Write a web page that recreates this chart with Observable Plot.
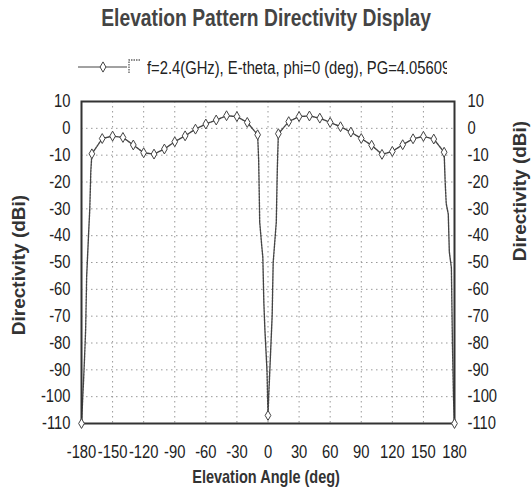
<!DOCTYPE html>
<html>
<head>
<meta charset="utf-8">
<script src="https://cdn.jsdelivr.net/npm/d3@7"></script>
<script src="https://cdn.jsdelivr.net/npm/@observablehq/plot@0.6"></script>
<style>
  html, body { margin: 0; padding: 0; background: #fff; }
  #page { position: relative; width: 532px; height: 487px; overflow: hidden; font-family: "Liberation Sans", Arial, sans-serif; color: #333; }
  .abs { position: absolute; white-space: nowrap; }
  #title { left: 0; width: 532px; top: 4px; text-align: center; font-weight: bold; font-size: 23.5px; line-height: 28px; color: #444; }
  #title span { display: inline-block; transform: scaleX(0.82); transform-origin: 50% 50%; }
  #legend { left: 0; top: 55px; width: 532px; height: 26px; }
  #legtext { left: 147px; top: 56px; width: 300px; height: 24px; overflow: hidden; font-size: 18px; line-height: 24px; color: #222; }
  #legtext span { display: inline-block; transform: scaleX(0.82); transform-origin: 0 50%; }
  #chart { position: absolute; left: 0; top: 85px; }
  #xlabel { left: 0; width: 532px; top: 466px; text-align: center; font-weight: bold; font-size: 17.7px; line-height: 22px; color: #333; }
  #xlabel span { display: inline-block; transform: scaleX(0.82); }
  .ylab { font-weight: bold; font-size: 19px; line-height: 22px; color: #333; transform: translate(-50%, -50%) rotate(-90deg); }
</style>
</head>
<body>
<div id="page">
  <div id="chart"></div>
  <div id="title" class="abs"><span>Elevation Pattern Directivity Display</span></div>
  <svg id="legend" class="abs" width="532" height="26"></svg>
  <div id="legtext" class="abs"><span>f=2.4(GHz), E-theta, phi=0 (deg), PG=4.05609</span></div>
  <div id="xlabel" class="abs"><span>Elevation Angle (deg)</span></div>
  <div id="ylabL" class="abs ylab" style="left:19px; top:265px;">Directivity (dBi)</div>
  <div id="ylabR" class="abs ylab" style="left:520px; top:191px;">Directivity (dBi)</div>
</div>
<script>
// ---- data ----
const angles = [
  -180, -179, -178, -177, -176, -175, -173, -172, -171, -170,
  -160, -150, -140, -130, -120, -110, -100, -90, -80, -70, -60, -50, -40, -30, -20, -10,
  -9, -8, -6, -5, -4, -3, -1, 0, 1, 2, 4, 5, 6, 8, 9,
  10, 20, 30, 40, 50, 60, 70, 80, 90, 100, 110, 120, 130, 140, 150, 160, 170,
  171, 172, 174, 175, 177, 178, 179, 180
];
const directivity = [
  -110, -102, -94, -85, -75, -55, -38, -30, -16, -9.5,
  -3.8, -2.9, -3.4, -6.2, -9.1, -9.6, -7.7, -5.0, -2.8, -0.3, 1.6, 3.1, 4.7, 4.4, 2.2, -2.4,
  -12, -35, -44, -48, -65, -75, -90, -107, -97, -88, -70, -50, -45, -35, -15,
  -2.0, 2.5, 4.4, 4.6, 3.8, 2.2, 0.6, -1.4, -3.8, -6.3, -9.7, -8.6, -6.1, -3.9, -3.0, -4.0, -8.9,
  -20, -28, -32, -46, -52, -80, -100, -110
];
const xTicks = [-180, -150, -120, -90, -60, -30, 0, 30, 60, 90, 120, 150, 180];
const yTicks = [10, 0, -10, -20, -30, -40, -50, -60, -70, -80, -90, -100, -110];
const markerStep = 10;

const data = angles.map((a, i) => ({angle: a, dbi: directivity[i]}));
const markers = data.filter(d => d.angle % markerStep === 0);

const ink = "#444";
const hyphen = d => String(d);
const chart = Plot.plot({
  width: 532,
  height: 402,
  marginTop: 16,
  marginBottom: 64,
  marginLeft: 81,
  marginRight: 78,
  style: {fontFamily: "'Liberation Sans', Arial, sans-serif", fontSize: "18px", color: "#222", background: "transparent", overflow: "visible"},
  x: {domain: [-180, 180]},
  y: {domain: [-110, 10]},
  marks: [
    Plot.gridX(xTicks, {stroke: "#999", strokeOpacity: 1, strokeDasharray: "1.5,3.5"}),
    Plot.gridY(yTicks, {stroke: "#999", strokeOpacity: 1, strokeDasharray: "1.5,3.5"}),
    Plot.axisX(xTicks, {tickSize: 0, tickPadding: 22, label: null, fontSize: 18, tickFormat: hyphen}),
    Plot.axisY(yTicks, {anchor: "left", tickSize: 0, tickPadding: 11, label: null, fontSize: 18, tickFormat: hyphen}),
    Plot.axisY(yTicks, {anchor: "right", tickSize: 0, tickPadding: 13, label: null, fontSize: 18, tickFormat: hyphen}),
    Plot.line(data, {x: "angle", y: "dbi", stroke: ink, strokeWidth: 1.4, strokeDasharray: "2,1"}),
    Plot.frame({stroke: "#333", strokeWidth: 2}),
    Plot.dot(markers, {x: "angle", y: "dbi", symbol: "diamond", r: 3, fill: "white", stroke: ink, strokeWidth: 1})
  ]
});
document.getElementById("chart").appendChild(chart);
// narrow (condensed) look of the reference's text: compress glyph widths without moving anchors
chart.querySelectorAll("text").forEach(t => {
  const w = t.getComputedTextLength();
  if (w > 0) {
    t.setAttribute("textLength", (w * 0.82).toFixed(2));
    t.setAttribute("lengthAdjust", "spacingAndGlyphs");
  }
});

// legend symbol
const leg = d3.select("#legend");
leg.append("line").attr("x1", 78).attr("x2", 127).attr("y1", 12).attr("y2", 12).attr("stroke", ink).attr("stroke-width", 1);
leg.append("path").attr("d", d3.symbol(d3.symbolDiamond, 30)()).attr("transform", "translate(103,12)").attr("fill", "white").attr("stroke", ink);
leg.append("path").attr("d", "M129,18V5H141").attr("fill", "none").attr("stroke", "#666").attr("stroke-width", 1.4).attr("stroke-dasharray", "1.5,1");
</script>
</body>
</html>
